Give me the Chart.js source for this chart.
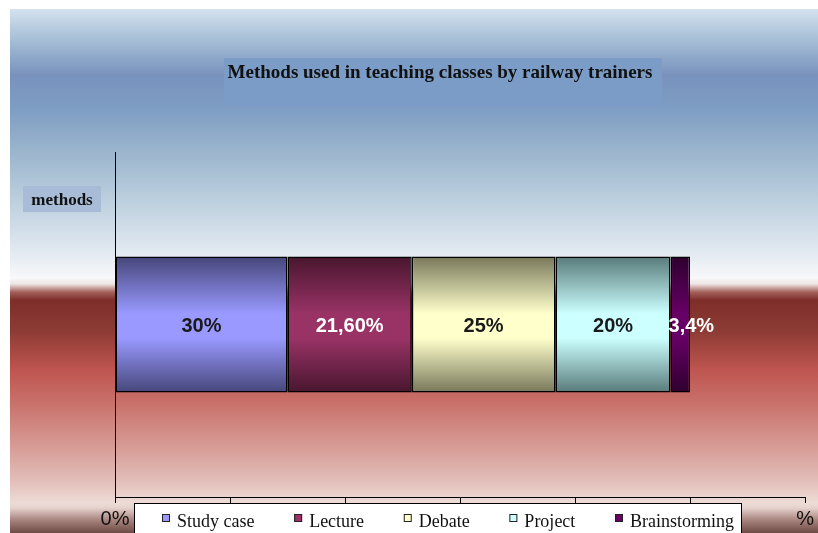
<!DOCTYPE html>
<html>
<head>
<meta charset="utf-8">
<script src="https://cdn.jsdelivr.net/npm/chart.js@4/dist/chart.umd.min.js"></script>
<style>
  html, body { margin: 0; padding: 0; background: #fff; }
  #wrap { width: 818px; height: 533px; }
</style>
</head>
<body>
<div id="wrap"><canvas id="chart" width="818" height="533"></canvas></div>
<script>
// data
const categories = ["methods"]
const seriesNames = ["Study case", "Lecture", "Debate", "Project", "Brainstorming"]
const seriesValues = [30, 21.6, 25, 20, 3.4]
const valueLabels = ["30%", "21,60%", "25%", "20%", "3,4%"]
const tickLabels = { 0: "0%", 120: "%" }

// light (middle) and dark (edge) shades of each bar piece
const lightColors = ["#9999ff", "#993366", "#ffffcc", "#ccffff", "#660066"]
const darkColors = ["#46467a", "#48162e", "#78785a", "#587a7a", "#2e002e"]
const labelColors = ["#1a1a1a", "#ffffff", "#1a1a1a", "#1a1a1a", "#ffffff"]
const barShare = 0.394

function barGradient(i) {
  return (ctx) => {
    const chart = ctx.chart
    const area = chart.chartArea
    const yScale = chart.scales.y
    if (!area || !yScale) return lightColors[i]
    const mid = yScale.getPixelForValue(0)
    const half = (area.bottom - area.top) * barShare / 2
    const g = chart.ctx.createLinearGradient(0, mid - half, 0, mid + half)
    g.addColorStop(0, darkColors[i])
    g.addColorStop(0.42, lightColors[i])
    g.addColorStop(0.6, lightColors[i])
    g.addColorStop(1, darkColors[i])
    return g
  }
}

// background, title box, axis-name box
const backdrop = {
  id: "backdrop",
  beforeDraw(chart) {
    const c = chart.ctx
    c.save()
    c.fillStyle = "#ffffff"
    c.fillRect(0, 0, chart.width, chart.height)
    const g = c.createLinearGradient(0, 9, 0, chart.height)
    const stops = [
      [9, "#d4e2ee"], [40, "#a6bed6"], [75, "#7892bd"], [110, "#7f9ec4"],
      [150, "#9ab4cc"], [200, "#bccfde"], [250, "#e0e8f0"], [278, "#f8f8fa"],
      [284, "#eee4e4"], [292, "#a4625c"], [300, "#7e2e2a"], [330, "#8c3a34"],
      [370, "#bf5550"], [400, "#c86e68"], [440, "#d5958f"], [480, "#e2bdb8"],
      [503, "#eddcd6"], [508, "#e6d2cc"], [520, "#a8847f"], [533, "#6e4a45"]
    ]
    stops.forEach(([y, col]) => g.addColorStop((y - 9) / (chart.height - 9), col))
    c.fillStyle = g
    c.fillRect(10, 9, chart.width - 10, chart.height - 9)

    // title
    c.fillStyle = "#7a9cc6"
    c.fillRect(224, 58, 438, 48)
    c.fillStyle = "#111"
    c.font = "bold 19px 'Liberation Serif', serif"
    c.textAlign = "center"
    c.textBaseline = "alphabetic"
    c.fillText("Methods used in teaching classes by railway trainers", 440, 78)

    // y axis name
    c.fillStyle = "#a8bcd8"
    c.fillRect(23, 186, 78, 26)
    c.fillStyle = "#111"
    c.font = "bold 17px 'Liberation Serif', serif"
    c.fillText(categories[0], 62, 205)
    c.restore()
  }
}

// value labels inside each piece
const valueText = {
  id: "valueText",
  afterDatasetsDraw(chart) {
    const c = chart.ctx
    c.save()
    c.font = "bold 20px 'Liberation Sans', Arial, sans-serif"
    c.textBaseline = "middle"
    chart.data.datasets.forEach((ds, i) => {
      const el = chart.getDatasetMeta(i).data[0]
      const w = Math.abs(el.x - el.base)
      const tw = c.measureText(valueLabels[i]).width
      c.fillStyle = labelColors[i]
      if (tw > w) {
        c.textAlign = "left"
        c.fillText(valueLabels[i], el.base - 2, el.y + 2)
      } else {
        c.textAlign = "center"
        c.fillText(valueLabels[i], (el.x + el.base) / 2, el.y + 2)
      }
    })
    c.restore()
  }
}

// boxed legend sitting over the axis labels
const boxLegend = {
  id: "boxLegend",
  afterDraw(chart) {
    const c = chart.ctx
    c.save()
    c.fillStyle = "#ffffff"
    c.fillRect(134, 503, 607, 40)
    c.strokeStyle = "#000"
    c.lineWidth = 1
    c.strokeRect(134.5, 503.5, 607, 40)
    c.font = "18px 'Liberation Serif', serif"
    c.textBaseline = "alphabetic"
    c.textAlign = "left"
    const widths = seriesNames.map((n) => 8 + 7 + c.measureText(n).width)
    const total = widths.reduce((a, b) => a + b, 0)
    const start = 162, end = 734
    const gap = (end - start - total) / (seriesNames.length - 1)
    let x = start
    seriesNames.forEach((n, i) => {
      c.fillStyle = lightColors[i]
      c.fillRect(x, 514, 8, 8)
      c.strokeStyle = "#222"
      c.strokeRect(x + 0.5, 514.5, 7, 7)
      c.fillStyle = "#111"
      c.fillText(n, x + 15, 527)
      x += widths[i] + gap
    })
    c.restore()
  }
}

const datasets = seriesNames.map((name, i) => ({
  label: name,
  data: [seriesValues[i]],
  backgroundColor: barGradient(i),
  borderColor: "#000",
  borderWidth: 1.5,
  borderSkipped: false,
  categoryPercentage: 1,
  barPercentage: barShare
}))

new Chart(document.getElementById("chart"), {
  type: "bar",
  data: { labels: categories, datasets },
  plugins: [backdrop, valueText, boxLegend],
  options: {
    responsive: false,
    devicePixelRatio: 1,
    animation: false,
    indexAxis: "y",
    layout: { padding: { left: 115, right: 12, top: 152, bottom: 0 } },
    plugins: {
      legend: { display: false },
      title: { display: false },
      tooltip: { enabled: false }
    },
    scales: {
      x: {
        stacked: true,
        min: 0,
        max: 120,
        afterFit: (s) => { s.height = 36 },
        ticks: {
          stepSize: 20,
          autoSkip: false,
          maxRotation: 0,
          padding: 4,
          color: "#111",
          font: { family: "'Liberation Sans', Arial, sans-serif", size: 20 },
          callback: (v) => tickLabels[v] || ""
        },
        grid: { drawOnChartArea: false, drawTicks: true, tickLength: 6, color: "#000" },
        border: { display: true, color: "#000", width: 1 }
      },
      y: {
        stacked: true,
        afterFit: (s) => { s.width = 0 },
        ticks: { display: false },
        grid: { display: false, drawTicks: false },
        border: { display: true, color: "#000", width: 1 }
      }
    }
  }
})
</script>
</body>
</html>
